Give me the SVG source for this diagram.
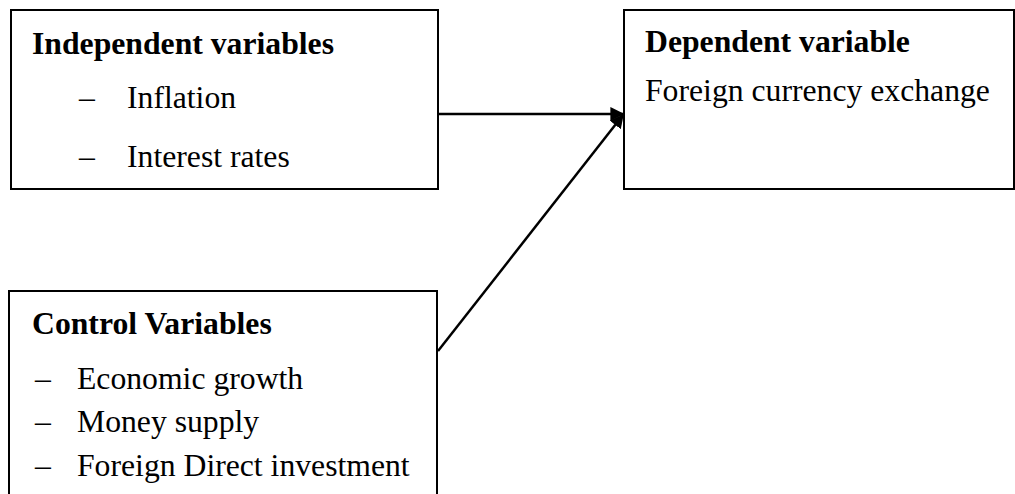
<svg xmlns="http://www.w3.org/2000/svg" width="1015" height="494" viewBox="0 0 1015 494">
<style>
.box{fill:#fff;stroke:#000;stroke-width:2}
.t{font-family:"Liberation Serif","Times New Roman",serif;font-size:31.7px;fill:#000}
.b{font-weight:bold}
.c{stroke:#000;stroke-width:2.5;fill:none}
</style>
<defs>
<marker id="ah" viewBox="0 0 10 10" refX="9" refY="5" markerWidth="5.6" markerHeight="5.6" orient="auto" markerUnits="strokeWidth">
<path d="M0,0 L10,5 L0,10 z" fill="#000"/>
</marker>
</defs>
<g id="independent">
<rect class="box" x="11" y="10" width="427" height="179"/>
<text class="t b" x="32" y="54">Independent variables</text>
<text class="t" x="79" y="108">–</text>
<text class="t" x="127" y="108">Inflation</text>
<text class="t" x="79" y="167">–</text>
<text class="t" x="127" y="167">Interest rates</text>
</g>
<g id="dependent">
<rect class="box" x="624" y="10" width="390" height="179"/>
<text class="t b" x="645" y="52">Dependent variable</text>
<text class="t" x="645" y="101">Foreign currency exchange</text>
</g>
<g id="control">
<rect class="box" x="9" y="291" width="428" height="210"/>
<text class="t b" x="32" y="334">Control Variables</text>
<text class="t" x="35" y="389">–</text>
<text class="t" x="77" y="389">Economic growth</text>
<text class="t" x="35" y="432">–</text>
<text class="t" x="77" y="432">Money supply</text>
<text class="t" x="35" y="476">–</text>
<text class="t" x="77" y="476">Foreign Direct investment</text>
</g>
<g id="connectors">
<line class="c" x1="438" y1="114" x2="623" y2="114" marker-end="url(#ah)"/>
<line class="c" x1="438" y1="351" x2="623" y2="115" marker-end="url(#ah)"/>
</g>
</svg>
